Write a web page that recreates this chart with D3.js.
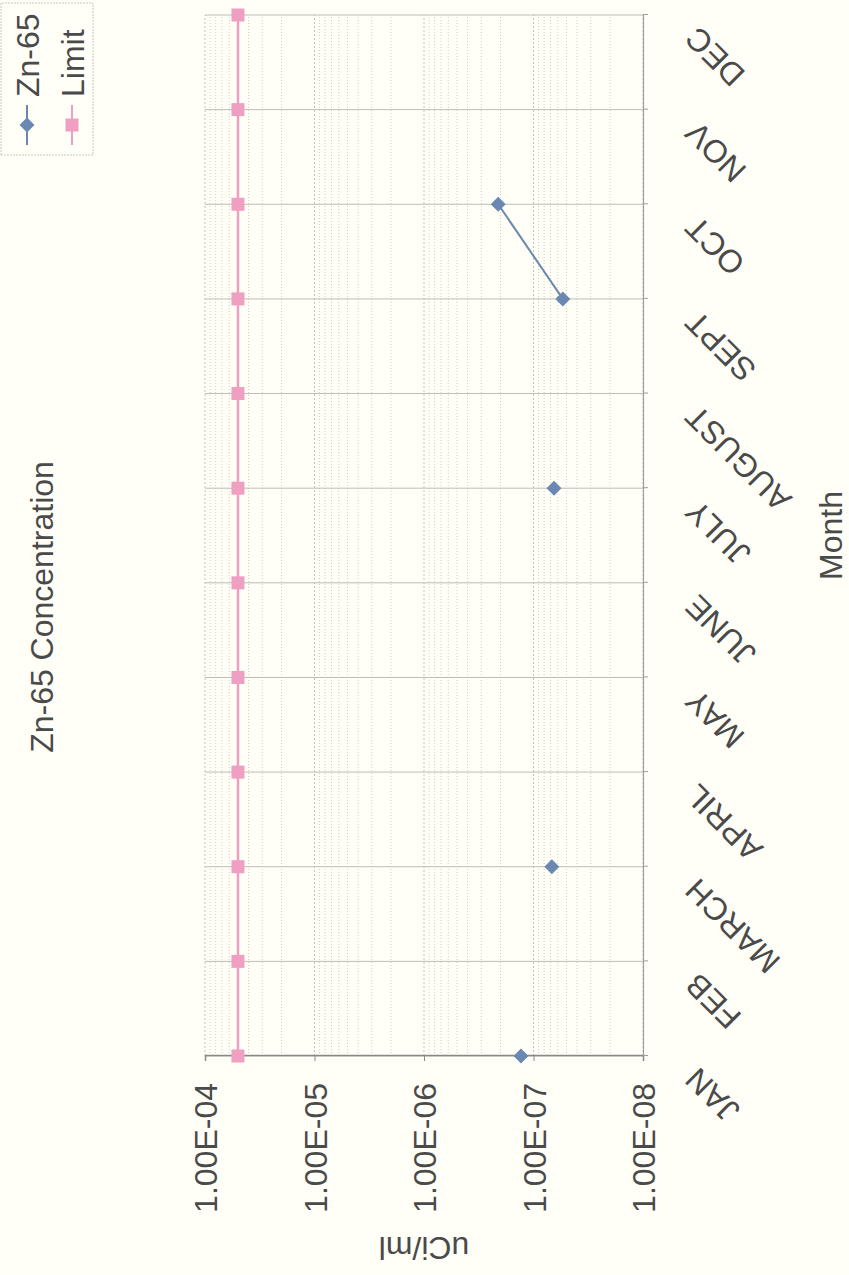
<!DOCTYPE html>
<html>
<head>
<meta charset="utf-8">
<script src="https://cdn.jsdelivr.net/npm/d3@7"></script>
<style>
  html, body { margin: 0; padding: 0; background: #fffff8; }
  svg { display: block; }
  text { font-family: "Liberation Sans", Arial, sans-serif; fill: #4a4a4a; }
</style>
</head>
<body>
<script>
// ---- data ----
const months = ["JAN", "FEB", "MARCH", "APRIL", "MAY", "JUNE", "JULY", "AUGUST", "SEPT", "OCT", "NOV", "DEC"];
const zn65 = [1.3e-7, null, 6.8e-8, null, null, null, 6.5e-8, null, 5.4e-8, 2.1e-7, null, null];
const limit = [5e-5, 5e-5, 5e-5, 5e-5, 5e-5, 5e-5, 5e-5, 5e-5, 5e-5, 5e-5, 5e-5, 5e-5];
const yTicks = [1e-4, 1e-5, 1e-6, 1e-7, 1e-8];
const yTickLabels = ["1.00E-04", "1.00E-05", "1.00E-06", "1.00E-07", "1.00E-08"];
const seriesNames = ["Zn-65", "Limit"];
const titleText = "Zn-65 Concentration";
const xTitle = "Month";
const yTitle = "uCi/ml";

// ---- layout (chart drawn in its own frame, then turned a quarter turn) ----
const W = 849, H = 1275;      // page
const plot = { left: 219, right: 1260, top: 205, bottom: 643 };
const colZn = "#6a88b1", colLim = "#ef9fbf";
const FS = 32;

const svg = d3.select("body").append("svg").attr("width", W).attr("height", H);
svg.append("rect").attr("width", W).attr("height", H).attr("fill", "#fffff8");

const g = svg.append("g").attr("transform", `translate(0,${H}) rotate(-90)`);

const x = d3.scalePoint().domain(months).range([plot.left, plot.right]);
const y = d3.scaleLog().domain([1e-8, 1e-4]).range([plot.bottom, plot.top]);

// minor log gridlines
const minor = [];
for (let e = -8; e < -4; e++) for (let k = 2; k <= 9; k++) minor.push(k * Math.pow(10, e));
g.append("g").selectAll("line").data(minor).join("line")
  .attr("x1", plot.left).attr("x2", plot.right)
  .attr("y1", d => y(d)).attr("y2", d => y(d))
  .attr("stroke", "#cfcfc4").attr("stroke-width", 1).attr("stroke-dasharray", "1,2");
// major gridlines
g.append("g").selectAll("line").data(yTicks).join("line")
  .attr("x1", plot.left).attr("x2", plot.right)
  .attr("y1", d => y(d)).attr("y2", d => y(d))
  .attr("stroke", "#c2c2b8").attr("stroke-width", 1).attr("stroke-dasharray", "2,2");
// category gridlines
g.append("g").selectAll("line").data(months).join("line")
  .attr("x1", d => x(d)).attr("x2", d => x(d))
  .attr("y1", plot.top).attr("y2", plot.bottom)
  .attr("stroke", "#bdbdb5").attr("stroke-width", 1);

// y axis
const yAxis = g.append("g").attr("transform", `translate(${plot.left},0)`)
  .call(d3.axisLeft(y).tickValues(yTicks).tickSize(5).tickPadding(22)
    .tickFormat((d, i) => yTickLabels[i]));
yAxis.select(".domain").attr("stroke", "#8a8a84").attr("stroke-width", 1.5);
yAxis.selectAll(".tick line").attr("stroke", "#8a8a84");
yAxis.selectAll("text").attr("font-size", FS).attr("fill", "#4a4a4a")
  .attr("font-family", "Liberation Sans, Arial, sans-serif").attr("dy", "0.36em");

// x axis
const xAxis = g.append("g").attr("transform", `translate(0,${plot.bottom})`)
  .call(d3.axisBottom(x).tickSize(5).tickFormat(""));
xAxis.select(".domain").attr("stroke", "#a0a09a").attr("stroke-width", 1.2);
xAxis.selectAll(".tick line").attr("stroke", "#a0a09a");
g.append("g").selectAll("text").data(months).join("text")
  .attr("transform", d => `translate(${x(d) - 10},${plot.bottom + 56}) rotate(-45)`)
  .attr("text-anchor", "end").attr("font-size", FS).text(d => d);

// series
const lineGen = d3.line().defined(d => d.v != null).x(d => x(d.m)).y(d => y(d.v));
const limData = months.map((m, i) => ({ m, v: limit[i] }));
const znData = months.map((m, i) => ({ m, v: zn65[i] }));
g.append("path").datum(limData).attr("d", lineGen)
  .attr("fill", "none").attr("stroke", colLim).attr("stroke-width", 2.5);
g.append("g").selectAll("rect").data(limData).join("rect")
  .attr("x", d => x(d.m) - 6.5).attr("y", d => y(d.v) - 6.5)
  .attr("width", 13).attr("height", 13).attr("fill", colLim);

g.append("path").datum(znData).attr("d", lineGen)
  .attr("fill", "none").attr("stroke", colZn).attr("stroke-width", 2);
const diamond = s => `M0,${-s}L${s},0L0,${s}L${-s},0Z`;
g.append("g").selectAll("path").data(znData.filter(d => d.v != null)).join("path")
  .attr("transform", d => `translate(${x(d.m)},${y(d.v)})`)
  .attr("d", diamond(7.5)).attr("fill", colZn);

// titles
g.append("text").attr("x", 668).attr("y", 53).attr("text-anchor", "middle")
  .attr("font-size", FS).text(titleText);
g.append("text").attr("transform", `translate(38,${(plot.top + plot.bottom) / 2}) rotate(-90)`)
  .attr("text-anchor", "middle").attr("font-size", FS).text(yTitle);
g.append("text").attr("x", (plot.left + plot.right) / 2).attr("y", 842)
  .attr("text-anchor", "middle").attr("font-size", FS).text(xTitle);

// legend
const leg = g.append("g");
leg.append("rect").attr("x", 1120).attr("y", 1).attr("width", 152).attr("height", 92)
  .attr("fill", "none").attr("stroke", "#c8c8c0").attr("stroke-width", 1).attr("stroke-dasharray", "2,1");
const legY = [27, 72];
const legCol = [colZn, colLim];
seriesNames.forEach((name, i) => {
  leg.append("line").attr("x1", 1130).attr("x2", 1170).attr("y1", legY[i]).attr("y2", legY[i])
    .attr("stroke", legCol[i]).attr("stroke-width", 2);
  if (i === 0) {
    leg.append("path").attr("transform", `translate(1150,${legY[i]})`).attr("d", diamond(7.5)).attr("fill", colZn);
  } else {
    leg.append("rect").attr("x", 1143.5).attr("y", legY[i] - 6.5).attr("width", 13).attr("height", 13).attr("fill", colLim);
  }
  leg.append("text").attr("x", 1178).attr("y", legY[i] + 11.5).attr("font-size", FS).text(name);
});
</script>
</body>
</html>
